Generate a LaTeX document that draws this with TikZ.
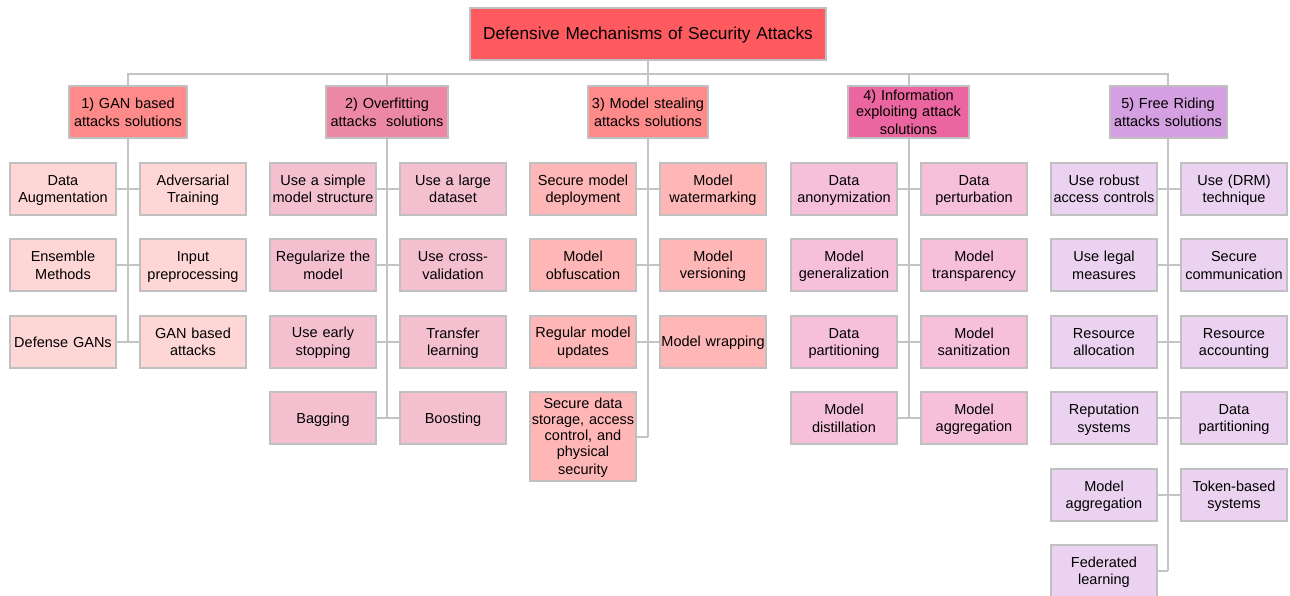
\documentclass[tikz,border=0pt]{standalone}
\usepackage{fontspec}
\setmainfont{Liberation Sans}
\definecolor{boxline}{RGB}{192,192,192}
\definecolor{connline}{RGB}{196,196,196}
\definecolor{rootfill}{RGB}{255,90,95}
\definecolor{catA}{RGB}{255,138,138}
\definecolor{catB}{RGB}{236,136,166}
\definecolor{catD}{RGB}{235,102,160}
\definecolor{catE}{RGB}{213,160,225}
\definecolor{leafA}{RGB}{255,214,214}
\definecolor{leafB}{RGB}{244,192,208}
\definecolor{leafC}{RGB}{255,182,182}
\definecolor{leafD}{RGB}{246,192,218}
\definecolor{leafE}{RGB}{234,210,240}
% invisible rule that fixes the height of the first and the depth of the last line
\newcommand\lnstrut{\vrule width0pt height13.6pt depth2.6pt}
\tikzset{
  box/.style={draw=boxline, line width=2pt, align=center, inner sep=0pt,
    font=\fontsize{14.5}{16}\selectfont,
    execute at begin node=\lnstrut, execute at end node=\lnstrut},
  rootbox/.style={box, fill=rootfill, text width=356pt, minimum height=52pt,
    font=\fontsize{17.25}{20}\selectfont},
  catbox/.style={box, minimum height=52pt},
  leaf/.style={box, text width=106pt, minimum height=52pt},
  conn/.style={draw=connline, line width=2pt},
}
\begin{document}
\begin{tikzpicture}[x=1pt, y=-1pt]
\useasboundingbox (0,0) rectangle (1290,595);

% root and categories
\node[rootbox] (root) at (648,34) {Defensive Mechanisms of Security Attacks};
\coordinate (bus) at (648,74);
\node[catbox, fill=catA, text width=118pt] (c1) at (128,112) {1) GAN based\\attacks solutions};
\node[catbox, fill=catB, text width=122pt] (c2) at (387,112) {2) Overfitting\\attacks\ \ solutions};
\node[catbox, fill=catA, text width=120pt] (c3) at (648,112) {3) Model stealing\\attacks solutions};
\node[catbox, fill=catD, text width=121pt] (c4) at (908.5,112) {4) Information\\exploiting attack\\solutions};
\node[catbox, fill=catE, text width=117pt] (c5) at (1168,112) {5) Free Riding\\attacks solutions};

% group 1
\node[leaf, fill=leafA] (g1l1) at (63,188.5) {Data\\Augmentation};
\node[leaf, fill=leafA] (g1r1) at (193,188.5) {Adversarial\\Training};
\node[leaf, fill=leafA] (g1l2) at (63,265) {Ensemble\\Methods};
\node[leaf, fill=leafA] (g1r2) at (193,265) {Input\\preprocessing};
\node[leaf, fill=leafA] (g1l3) at (63,341.5) {Defense GANs};
\node[leaf, fill=leafA] (g1r3) at (193,341.5) {GAN based\\attacks};

% group 2
\node[leaf, fill=leafB] (g2l1) at (323,188.5) {Use a simple\\model structure};
\node[leaf, fill=leafB] (g2r1) at (453,188.5) {Use a large\\dataset};
\node[leaf, fill=leafB] (g2l2) at (323,265) {Regularize the\\model};
\node[leaf, fill=leafB] (g2r2) at (453,265) {Use cross-\\validation};
\node[leaf, fill=leafB] (g2l3) at (323,341.5) {Use early\\stopping};
\node[leaf, fill=leafB] (g2r3) at (453,341.5) {Transfer\\learning};
\node[leaf, fill=leafB] (g2l4) at (323,418) {Bagging};
\node[leaf, fill=leafB] (g2r4) at (453,418) {Boosting};

% group 3
\node[leaf, fill=leafC] (g3l1) at (583,188.5) {Secure model\\deployment};
\node[leaf, fill=leafC] (g3r1) at (713,188.5) {Model\\watermarking};
\node[leaf, fill=leafC] (g3l2) at (583,265) {Model\\obfuscation};
\node[leaf, fill=leafC] (g3r2) at (713,265) {Model\\versioning};
\node[leaf, fill=leafC] (g3l3) at (583,341.5) {Regular model\\updates};
\node[leaf, fill=leafC] (g3r3) at (713,341.5) {Model wrapping};
\node[leaf, fill=leafC, minimum height=89pt] (g3l4) at (583,436.5) {Secure data\\storage, access\\control, and\\physical\\security};

% group 4
\node[leaf, fill=leafD] (g4l1) at (844,188.5) {Data\\anonymization};
\node[leaf, fill=leafD] (g4r1) at (974,188.5) {Data\\perturbation};
\node[leaf, fill=leafD] (g4l2) at (844,265) {Model\\generalization};
\node[leaf, fill=leafD] (g4r2) at (974,265) {Model\\transparency};
\node[leaf, fill=leafD] (g4l3) at (844,341.5) {Data\\partitioning};
\node[leaf, fill=leafD] (g4r3) at (974,341.5) {Model\\sanitization};
\node[leaf, fill=leafD] (g4l4) at (844,418) {Model\\distillation};
\node[leaf, fill=leafD] (g4r4) at (974,418) {Model\\aggregation};

% group 5
\node[leaf, fill=leafE] (g5l1) at (1104,188.5) {Use robust\\access controls};
\node[leaf, fill=leafE] (g5r1) at (1234,188.5) {Use (DRM)\\technique};
\node[leaf, fill=leafE] (g5l2) at (1104,265) {Use legal\\measures};
\node[leaf, fill=leafE] (g5r2) at (1234,265) {Secure\\communication};
\node[leaf, fill=leafE] (g5l3) at (1104,341.5) {Resource\\allocation};
\node[leaf, fill=leafE] (g5r3) at (1234,341.5) {Resource\\accounting};
\node[leaf, fill=leafE] (g5l4) at (1104,418) {Reputation\\systems};
\node[leaf, fill=leafE] (g5r4) at (1234,418) {Data\\partitioning};
\node[leaf, fill=leafE] (g5l5) at (1104,494.5) {Model\\aggregation};
\node[leaf, fill=leafE] (g5r5) at (1234,494.5) {Token-based\\systems};
\node[leaf, fill=leafE] (g5l6) at (1104,571) {Federated\\learning};

% top-level bus
\draw[conn] (root.south) -- (bus);
\draw[conn] (c1.north) -- (c1.north |- bus) -| (c5.north);
\draw[conn] (c2.north) -- (c2.north |- bus);
\draw[conn] (c3.north) -- (c3.north |- bus);
\draw[conn] (c4.north) -- (c4.north |- bus);

% group trunks
\draw[conn] (c1.south) -- (c1.south |- g1l3.east);
\draw[conn] (c2.south) -- (c2.south |- g2l4.east);
\draw[conn] (c3.south) -- (c3.south |- g3l4.east);
\draw[conn] (c4.south) -- (c4.south |- g4l4.east);
\draw[conn] (c5.south) -- (c5.south |- g5l6.east);

% row branches
\foreach \g/\n in {1/3, 2/4, 4/4, 5/5}{
  \foreach \r in {1,...,\n}{
    \draw[conn] (g\g l\r.east) -- (g\g r\r.west);
  }
}
\foreach \r in {1,2,3}{
  \draw[conn] (g3l\r.east) -- (g3r\r.west);
}
\draw[conn] (g3l4.east) -- (c3.south |- g3l4.east);
\draw[conn] (g5l6.east) -- (c5.south |- g5l6.east);
\end{tikzpicture}
\end{document}
